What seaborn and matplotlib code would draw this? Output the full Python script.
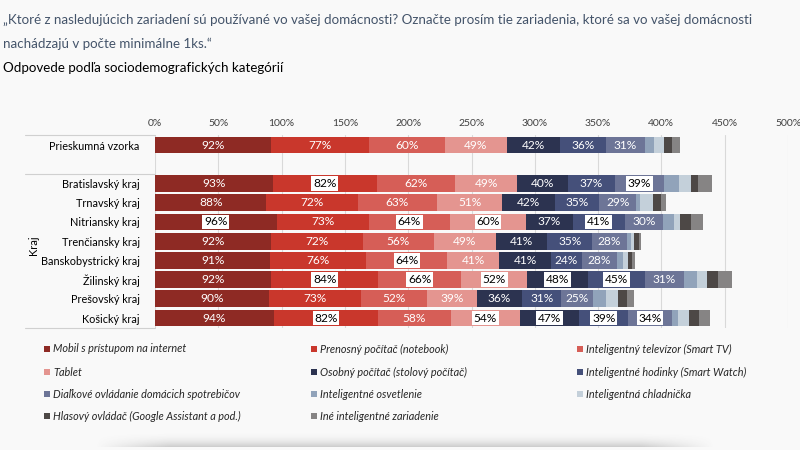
import numpy as np
import pandas as pd
import seaborn as sns
import matplotlib
matplotlib.use("Agg")
import matplotlib.pyplot as plt
from matplotlib.patches import Rectangle
import matplotlib.transforms as mtrans

# údaje odčítané z grafu (v %)
regions = ["Prieskumná vzorka", "Bratislavský kraj", "Trnavský kraj", "Nitriansky kraj",
           "Trenčiansky kraj", "Banskobystrický kraj", "Žilinský kraj", "Prešovský kraj",
           "Košický kraj"]
devices = ["Mobil s prístupom na internet", "Prenosný počítač (notebook)",
           "Inteligentný televízor (Smart TV)", "Tablet", "Osobný počítač (stolový počítač)",
           "Inteligentné hodinky (Smart Watch)", "Diaľkové ovládanie domácich spotrebičov",
           "Inteligentné osvetlenie", "Inteligentná chladnička",
           "Hlasový ovládač (Google Assistant a pod.)", "Iné inteligentné zariadenie"]
mobil = [92, 93, 88, 96, 92, 91, 92, 90, 94]
notebook = [77, 82, 72, 73, 72, 76, 84, 73, 82]
smart_tv = [60, 62, 63, 64, 56, 64, 66, 52, 58]
tablet = [49, 49, 51, 60, 49, 41, 52, 39, 54]
pc = [42, 40, 42, 37, 41, 41, 48, 36, 47]
hodinky = [36, 37, 35, 41, 35, 24, 45, 31, 39]
dialkove = [31, 39, 29, 30, 28, 28, 31, 25, 34]
osvetlenie = [7, 12, 3, 9, 3, 5, 10, 10, 5]
chladnicka = [8, 9, 10, 5, 2, 4, 8, 10, 9]
hlasovy = [6, 6, 7, 8, 4, 3, 9, 7, 8]
ine = [7, 11, 4, 10, 2, 2, 11, 5, 8]
xticks = [0, 50, 100, 150, 200, 250, 300, 350, 400, 450, 500]

series = [mobil, notebook, smart_tv, tablet, pc, hodinky, dialkove,
          osvetlenie, chladnicka, hlasovy, ine]
colors = ["#8E2A24", "#C9372C", "#D65E57", "#E49590", "#2C3350", "#45507A",
          "#6D7597", "#91A3BA", "#C4D0DA", "#4D4846", "#868484"]
# popisky s bielym rámčekom (riadok, zariadenie)
boxed = {(1, 1), (1, 6), (3, 0), (3, 2), (3, 3), (3, 5), (5, 2),
         (6, 1), (6, 2), (6, 3), (6, 4), (6, 5),
         (8, 1), (8, 3), (8, 4), (8, 5), (8, 6)}

# poradie riadkov s prázdnym riadkom medzi vzorkou a krajmi
order = [regions[0], " "] + regions[1:]

vals = np.array(series, dtype=float)          # zariadenia x regióny
cum = vals.cumsum(axis=0)
rows = []
for i, dev in enumerate(devices):
    for j, reg in enumerate(regions):
        rows.append({"device": dev, "region": reg, "value": vals[i, j], "cum": cum[i, j]})
df = pd.DataFrame(rows)

bg = "#F9F9F9"
sns.set_theme(style="white")
plt.rcParams["font.family"] = ["Lato", "DejaVu Sans"]

fig = plt.figure(figsize=(8, 4.5), dpi=100, facecolor=bg)
ax = fig.add_axes([155 / 800, 1 - 327.7 / 450, 633 / 800, 192.3 / 450])
ax.set_facecolor(bg)

# skladané pruhy: kumulatívne súčty od posledného po prvé
for i in range(len(devices) - 1, -1, -1):
    sub = df[df["device"] == devices[i]]
    sns.barplot(data=sub, x="cum", y="region", order=order, orient="h",
                color=colors[i], saturation=1, width=0.87, errorbar=None,
                linewidth=0, ax=ax, zorder=2)

# popisky hodnôt
for i in range(7):
    for j, reg in enumerate(regions):
        v = vals[i, j]
        xc = cum[i, j] - v / 2
        yc = order.index(reg)
        if (j, i) in boxed:
            ax.text(xc, yc, f"{int(v)}%", ha="center", va="center", fontsize=8.6,
                    color="black", zorder=4,
                    bbox=dict(boxstyle="square,pad=0.14", fc="white", ec="none"))
        else:
            ax.text(xc, yc, f"{int(v)}%", ha="center", va="center", fontsize=8.6,
                    color="white", zorder=4)

ax.set_xlim(0, 500)
ax.set_ylim(9.5, -0.5)
ax.set_xticks(xticks)
ax.set_xticklabels([f"{t}%" for t in xticks], fontsize=7.5, color="#404040")
ax.xaxis.tick_top()
ax.tick_params(axis="x", length=0, pad=5)
ax.tick_params(axis="y", length=0, pad=11, labelsize=7.8, labelcolor="black")
ax.set_xlabel("")
ax.set_ylabel("")
ax.grid(axis="x", color="#D9D9D9", linewidth=0.8, zorder=0)
ax.set_axisbelow(True)
for s in ax.spines.values():
    s.set_visible(False)

# oddeľovacie čiary pri popiskoch kategórií
tr = mtrans.blended_transform_factory(fig.transFigure, ax.transData)
for yl in [-0.5, 1.5, 9.5]:
    ax.plot([25 / 800, 155 / 800], [yl, yl], transform=tr, color="#D0D0D0",
            linewidth=0.8, clip_on=False)
fig.text(34 / 800, 1 - 245 / 450, "Kraj", rotation=90, ha="center", va="center",
         fontsize=8, color="black")

# nadpisy
fig.text(3 / 800, 1 - 20 / 450,
         "„Ktoré z nasledujúcich zariadení sú používané vo vašej domácnosti? Označte prosím tie zariadenia, ktoré sa vo vašej domácnosti",
         fontsize=9.6, color="#44546A", va="center")
fig.text(3 / 800, 1 - 44 / 450, "nachádzajú v počte minimálne 1ks.“",
         fontsize=9.6, color="#44546A", va="center")
fig.text(3 / 800, 1 - 68 / 450, "Odpovede podľa sociodemografických kategórií",
         fontsize=9.6, color="black", va="center")

# legenda
leg_x = [47, 314, 580]
leg_y = [349, 372, 394, 416]
for k, dev in enumerate(devices):
    cx = leg_x[k % 3]
    cy = leg_y[k // 3]
    fig.patches.append(Rectangle(((cx - 3) / 800, 1 - (cy + 3) / 450), 6 / 800, 6 / 450,
                                 transform=fig.transFigure, facecolor=colors[k],
                                 edgecolor="none"))
    fig.text((cx + 6) / 800, 1 - cy / 450, dev, fontsize=7.8, style="italic",
             color="#262626", va="center")

# tieň pod kartou
sh = fig.add_axes([95 / 800, 1 - 447 / 450, 620 / 800, 16 / 450])
sh.axis("off")
hx = np.linspace(0, 1, 300)
hy = np.linspace(0, 1, 40)
horiz = np.clip(np.minimum(hx, 1 - hx) / 0.12, 0, 1)
vert = hy ** 2.2
alpha = np.outer(vert, horiz) * 0.28
img = np.zeros((40, 300, 4))
img[..., :3] = 0.35
img[..., 3] = alpha
sh.imshow(img, aspect="auto", extent=[0, 1, 0, 1], origin="upper")

fig.savefig("out.png", dpi=100, facecolor=bg)
